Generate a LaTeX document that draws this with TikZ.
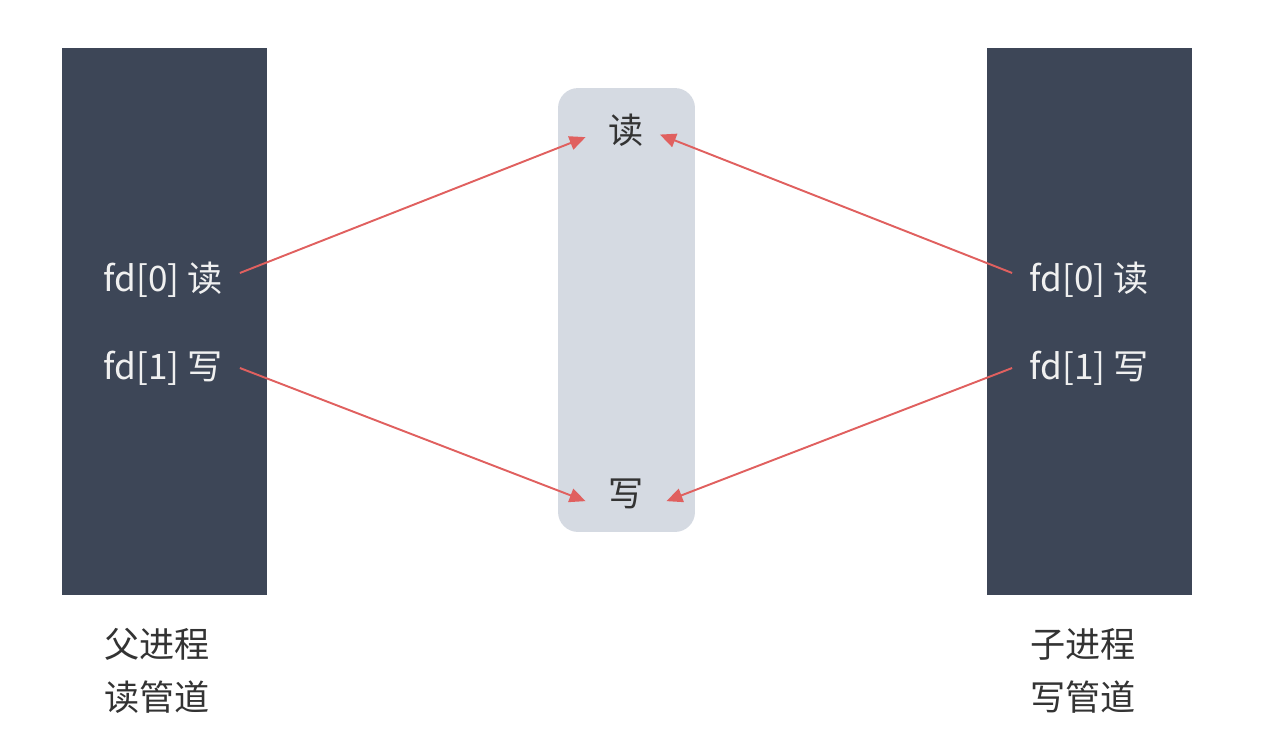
\documentclass[tikz,border=0pt]{standalone}
\usepackage{fontspec}
\setmainfont{Noto Sans CJK SC}
\usepackage{xcolor}
\usepackage{tikz}
\usetikzlibrary{positioning,arrows.meta}

\definecolor{procblue}{HTML}{3D4657}
\definecolor{pipegray}{HTML}{D5DAE2}
\definecolor{arrowred}{HTML}{E0605F}
\definecolor{txtgray}{HTML}{333333}

\begin{document}
\begin{tikzpicture}[x=0.02cm,y=-0.02cm,
  proc/.style={fill=procblue,minimum width=4.1cm,minimum height=10.94cm,inner sep=0pt},
  pipebox/.style={fill=pipegray,rounded corners=0.4cm,minimum width=2.74cm,minimum height=8.88cm,inner sep=0pt},
  fdlabel/.style={text=white!94!black,font=\fontsize{20}{24}\selectfont,inner sep=0.34cm},
  endlabel/.style={text=txtgray,font=\fontsize{20}{24}\selectfont,inner sep=0.45cm},
  caption/.style={text=txtgray,font=\fontsize{20}{30}\selectfont,align=left},
  flow/.style={arrowred,line width=1.1pt,-{Triangle[length=0.32cm,width=0.28cm]}}]
\useasboundingbox (0,0) rectangle (1264,738);
  % processes
  \node[proc] (parent) at (164.5,321.5) {};
  \node[proc] (child) at (1089.5,321.5) {};
  % pipe
  \node[pipebox] (pipe) at (626.5,310) {};
  \node[endlabel] (rd) at (626,130) {读};
  \node[endlabel] (wr) at (626,494) {写};
  % descriptors
  \node[fdlabel] (p0) at (163,280) {fd[0] 读};
  \node[fdlabel] (p1) at (163,368) {fd[1] 写};
  \node[fdlabel] (c0) at (1089,280) {fd[0] 读};
  \node[fdlabel] (c1) at (1089,368) {fd[1] 写};
  % captions
  \node[caption] (pcap) at (157,671) {父进程\\读管道};
  \node[caption] (ccap) at (1083,671) {子进程\\写管道};
  % arrows
  \draw[flow] ([yshift=4pt]p0.east) -- (rd.190);
  \draw[flow] (p1.east) -- (wr.190);
  \draw[flow,shorten >=-0.14cm] ([yshift=4pt]c0.west) -- (rd.350);
  \draw[flow] (c1.west) -- (wr.350);
\end{tikzpicture}
\end{document}
